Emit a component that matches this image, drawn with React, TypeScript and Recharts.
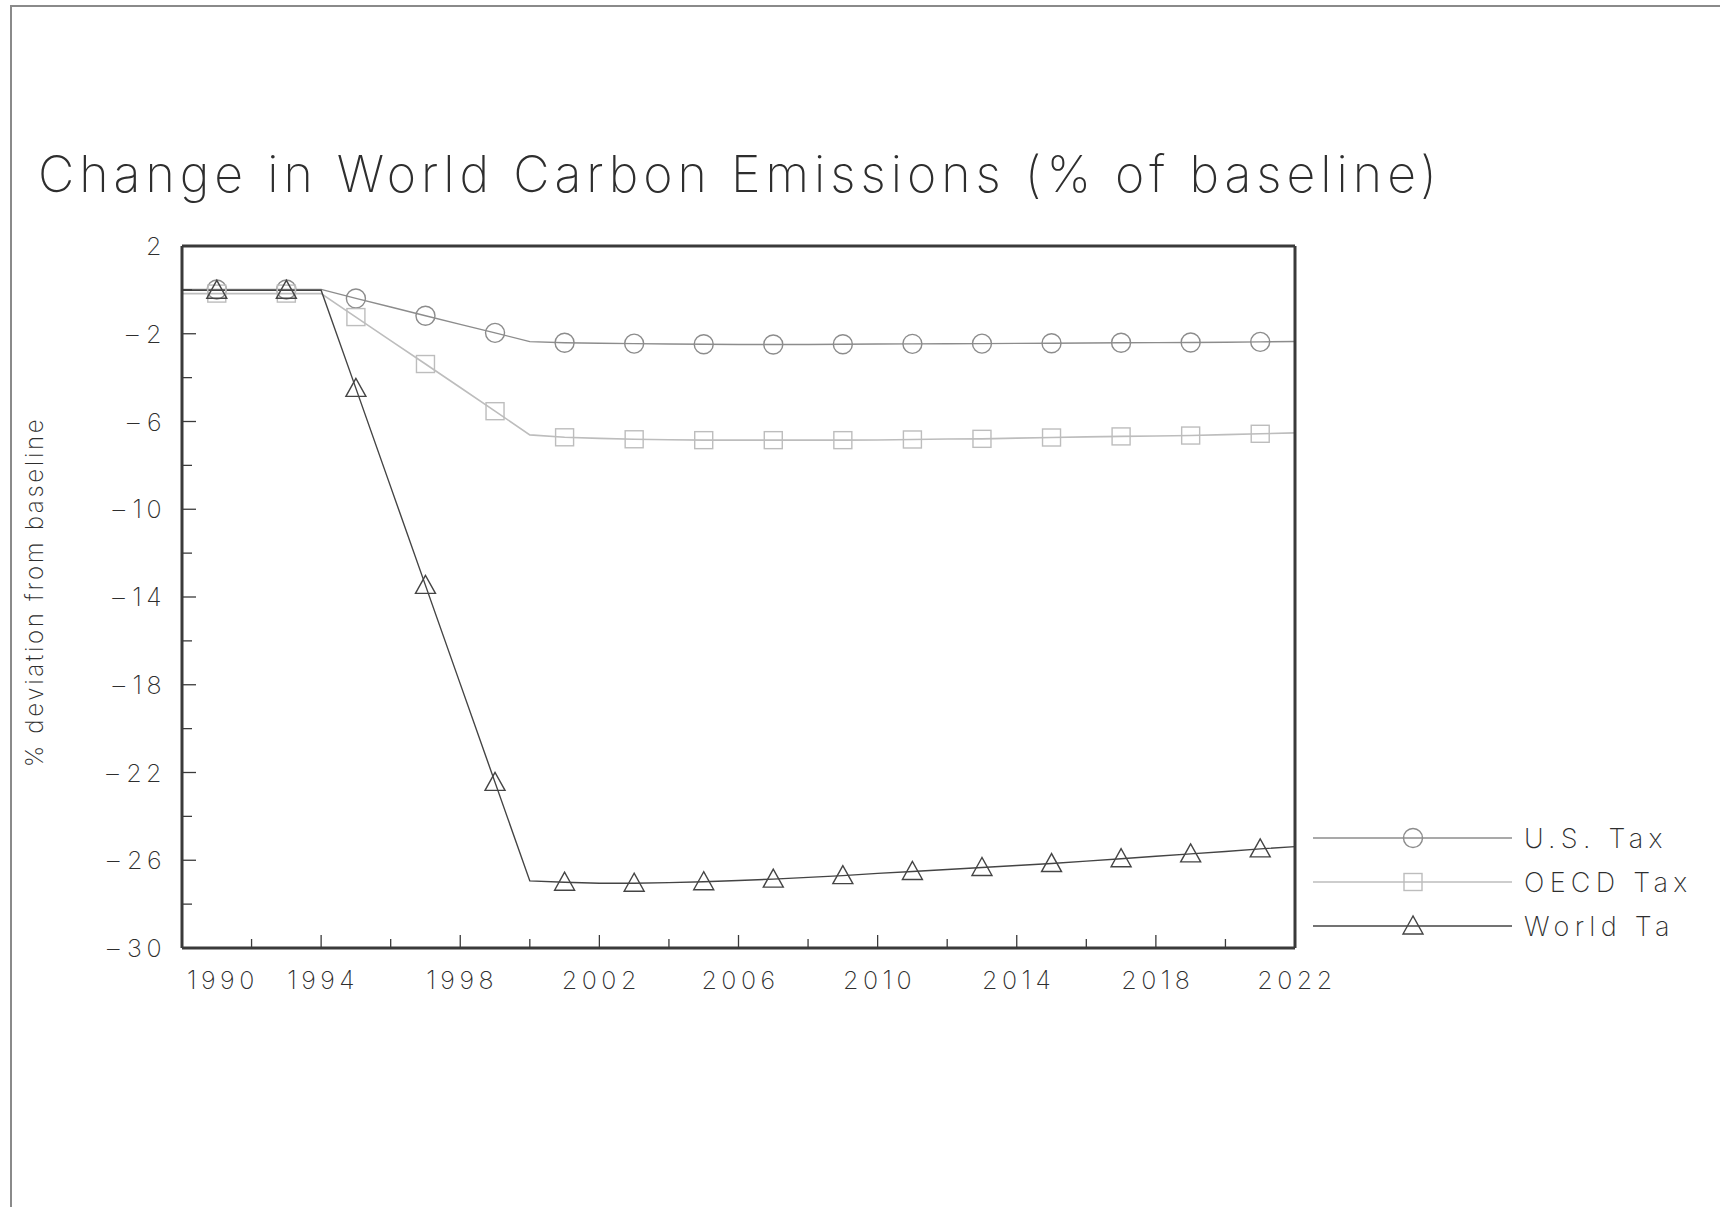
import React from "react";
import { LineChart, Line, XAxis, YAxis, Legend } from "recharts";

const years = [
  1990, 1991, 1992, 1993, 1994, 1995, 1996, 1997, 1998, 1999, 2000, 2001,
  2002, 2003, 2004, 2005, 2006, 2007, 2008, 2009, 2010, 2011, 2012, 2013,
  2014, 2015, 2016, 2017, 2018, 2019, 2020, 2021, 2022,
];

const usTax = [
  0.02, 0.02, 0.02, 0.02, 0.02, -0.39, -0.78, -1.18, -1.57, -1.96, -2.36,
  -2.41, -2.43, -2.45, -2.47, -2.48, -2.49, -2.49, -2.49, -2.48, -2.47, -2.46,
  -2.455, -2.45, -2.44, -2.43, -2.42, -2.41, -2.405, -2.4, -2.385, -2.37, -2.35,
];

const oecdTax = [
  -0.17, -0.17, -0.17, -0.17, -0.17, -1.24, -2.31, -3.38, -4.45, -5.53, -6.61,
  -6.72, -6.77, -6.81, -6.83, -6.85, -6.85, -6.85, -6.85, -6.85, -6.84, -6.82,
  -6.8, -6.79, -6.76, -6.73, -6.7, -6.68, -6.66, -6.64, -6.6, -6.56, -6.52,
];

const worldTax = [
  -0.02, -0.02, -0.02, -0.02, -0.02, -4.49, -8.98, -13.47, -17.96, -22.45,
  -26.94, -27.0, -27.05, -27.05, -27.02, -26.98, -26.92, -26.86, -26.78, -26.7,
  -26.6, -26.51, -26.42, -26.33, -26.24, -26.15, -26.04, -25.93, -25.82, -25.71,
  -25.6, -25.48, -25.38,
];

const xTicks = [
  1990, 1992, 1994, 1996, 1998, 2000, 2002, 2004, 2006, 2008, 2010, 2012, 2014,
  2016, 2018, 2020, 2022,
];
const yTicks = [2, 0, -2, -4, -6, -8, -10, -12, -14, -16, -18, -20, -22, -24, -26, -28, -30];

const seriesNames = ["U.S. Tax", "OECD Tax", "World Ta"];
const seriesKeys = ["us", "oecd", "world"];

const data = years.map((year, i) => ({
  year,
  us: usTax[i],
  oecd: oecdTax[i],
  world: worldTax[i],
}));

const FONT = "Inter, 'DejaVu Sans', sans-serif";
const TEXT = "#2e2e2e";
const AXIS = "#3a3a3a";
const colors: Record<string, string> = { us: "#8c8c8c", oecd: "#bdbdbd", world: "#444" };
const shapes: Record<string, string> = { us: "circle", oecd: "square", world: "triangle" };

function Marker({ shape, cx, cy, color }: any) {
  if (shape === "circle")
    return <circle cx={cx} cy={cy} r={9.5} fill="none" stroke={color} strokeWidth={1.4} />;
  if (shape === "square")
    return <rect x={cx - 9} y={cy - 8.5} width={18} height={17} fill="none" stroke={color} strokeWidth={1.4} />;
  return (
    <polygon
      points={`${cx},${cy - 10} ${cx - 10},${cy + 8} ${cx + 10},${cy + 8}`}
      fill="none"
      stroke={color}
      strokeWidth={1.4}
    />
  );
}

const makeDot = (key: string) => (props: any) => {
  const { cx, cy, payload, index } = props;
  if (payload.year % 2 === 0 || cx == null) return <g key={`${key}-${index}`} />;
  return (
    <g key={`${key}-${index}`}>
      <Marker shape={shapes[key]} cx={cx} cy={cy} color={colors[key]} />
    </g>
  );
};

const labelStyle = { fontFamily: FONT, fontWeight: 200, fill: TEXT, fontSize: 25, letterSpacing: 4.5 };

function BottomTick({ x, y, payload }: any) {
  const v = payload.value;
  const major = (v - 1990) % 4 === 0;
  return (
    <g>
      <line x1={x} x2={x} y1={y} y2={y - (major ? 13 : 9)} stroke={AXIS} strokeWidth={1.3} />
      {major && (
        <text
          x={v === 1990 ? x + 5 : x + 2}
          y={y + 41}
          textAnchor={v === 1990 ? "start" : "middle"}
          style={labelStyle}
        >
          {v}
        </text>
      )}
    </g>
  );
}

function TopTick({ x, y, payload }: any) {
  const major = (payload.value - 1990) % 4 === 0;
  return <line x1={x} x2={x} y1={y} y2={y + (major ? 13 : 9)} stroke={AXIS} strokeWidth={1.3} />;
}

function LeftTick({ x, y, payload }: any) {
  const v = payload.value;
  const major = (2 - v) % 4 === 0;
  return (
    <g>
      <line x1={x} x2={x + (major ? 14 : 10)} y1={y} y2={y} stroke={AXIS} strokeWidth={1.3} />
      {major && (
        <text x={x - 16} y={y + 9} textAnchor="end" style={labelStyle}>
          {v < 0 ? "\u2013" : ""}
          <tspan dx={v < 0 ? 3 : 0}>{Math.abs(v)}</tspan>
        </text>
      )}
    </g>
  );
}

function RightTick({ x, y, payload }: any) {
  const major = (2 - payload.value) % 4 === 0;
  return <line x1={x} x2={x - (major ? 14 : 10)} y1={y} y2={y} stroke={AXIS} strokeWidth={1.3} />;
}

function LegendContent({ payload }: any) {
  const entries = [...(payload || [])].sort(
    (a: any, b: any) => seriesKeys.indexOf(a.dataKey) - seriesKeys.indexOf(b.dataKey)
  );
  return (
    <svg width={420} height={140}>
      {entries.map((entry: any, i: number) => {
        const y = 18 + i * 44;
        const key = entry.dataKey as string;
        return (
          <g key={key}>
            <line x1={8} x2={207} y1={y} y2={y} stroke={entry.color} strokeWidth={1.4} />
            <Marker shape={shapes[key]} cx={108} cy={y} color={entry.color} />
            <text
              x={219}
              y={y + 10}
              style={{ fontFamily: FONT, fontWeight: 200, fill: TEXT, fontSize: 27, letterSpacing: 5.3 }}
            >
              {entry.value}
            </text>
          </g>
        );
      })}
    </svg>
  );
}

function YLabel(props: any) {
  const vb = props.viewBox || { x: 182, y: 246, width: 0, height: 702 };
  const cx = vb.x + (vb.width || 0) - 148;
  const cy = vb.y + vb.height / 2 - 5;
  return (
    <text
      x={cx}
      y={cy}
      transform={`rotate(-90 ${cx} ${cy})`}
      textAnchor="middle"
      dominantBaseline="central"
      style={{ ...labelStyle, fontSize: 24, letterSpacing: 2.7 }}
    >
      % deviation from baseline
    </text>
  );
}

export default function App() {
  return (
    <div style={{ position: "absolute", left: 0, top: 0, width: 1720, height: 1207, background: "#fff" }}>
      <div style={{ position: "absolute", left: 11, top: 5, width: 1709, height: 2, background: "#8a8a8a" }} />
      <div style={{ position: "absolute", left: 10, top: 5, width: 2, height: 1202, background: "#8a8a8a" }} />
      <div
        style={{
          position: "absolute",
          left: 38,
          top: 149,
          fontFamily: FONT,
          fontWeight: 200,
          fontSize: 50,
          lineHeight: "50px",
          letterSpacing: 5,
          color: TEXT,
          whiteSpace: "nowrap",
        }}
      >
        Change in World Carbon Emissions (% of baseline)
      </div>
      <LineChart
        width={1720}
        height={1207}
        data={data}
        margin={{ top: 245, right: 424, bottom: 258, left: 181 }}
      >
        <XAxis
          dataKey="year"
          type="number"
          domain={[1990, 2022]}
          ticks={xTicks}
          interval={0}
          height={1}
          tickSize={0}
          tickMargin={0}
          tickLine={false}
          tick={<BottomTick />}
          axisLine={{ stroke: AXIS, strokeWidth: 3 }}
        />
        <XAxis
          xAxisId="top"
          orientation="top"
          type="number"
          domain={[1990, 2022]}
          ticks={xTicks}
          interval={0}
          height={1}
          tickSize={0}
          tickMargin={0}
          tickLine={false}
          tick={<TopTick />}
          axisLine={{ stroke: AXIS, strokeWidth: 3 }}
        />
        <YAxis
          type="number"
          domain={[-30, 2]}
          ticks={yTicks}
          interval={0}
          width={1}
          tickSize={0}
          tickMargin={0}
          tickLine={false}
          tick={<LeftTick />}
          axisLine={{ stroke: AXIS, strokeWidth: 3 }}
          label={{ content: YLabel }}
        />
        <YAxis
          yAxisId="right"
          orientation="right"
          type="number"
          domain={[-30, 2]}
          ticks={yTicks}
          interval={0}
          width={1}
          tickSize={0}
          tickMargin={0}
          tickLine={false}
          tick={<RightTick />}
          axisLine={{ stroke: AXIS, strokeWidth: 3 }}
        />
        <Legend
          layout="vertical"
          align="center"
          verticalAlign="middle"
          content={<LegendContent />}
          wrapperStyle={{ position: "absolute", left: 1305, top: 820, width: 420, height: 140 }}
        />
        <Line
          type="linear"
          dataKey="us"
          name={seriesNames[0]}
          stroke={colors.us}
          strokeWidth={1.4}
          dot={makeDot("us")}
          activeDot={false}
          isAnimationActive={false}
        />
        <Line
          type="linear"
          dataKey="oecd"
          name={seriesNames[1]}
          stroke={colors.oecd}
          strokeWidth={1.6}
          dot={makeDot("oecd")}
          activeDot={false}
          isAnimationActive={false}
        />
        <Line
          type="linear"
          dataKey="world"
          name={seriesNames[2]}
          stroke={colors.world}
          strokeWidth={1.4}
          dot={makeDot("world")}
          activeDot={false}
          isAnimationActive={false}
        />
      </LineChart>
    </div>
  );
}
